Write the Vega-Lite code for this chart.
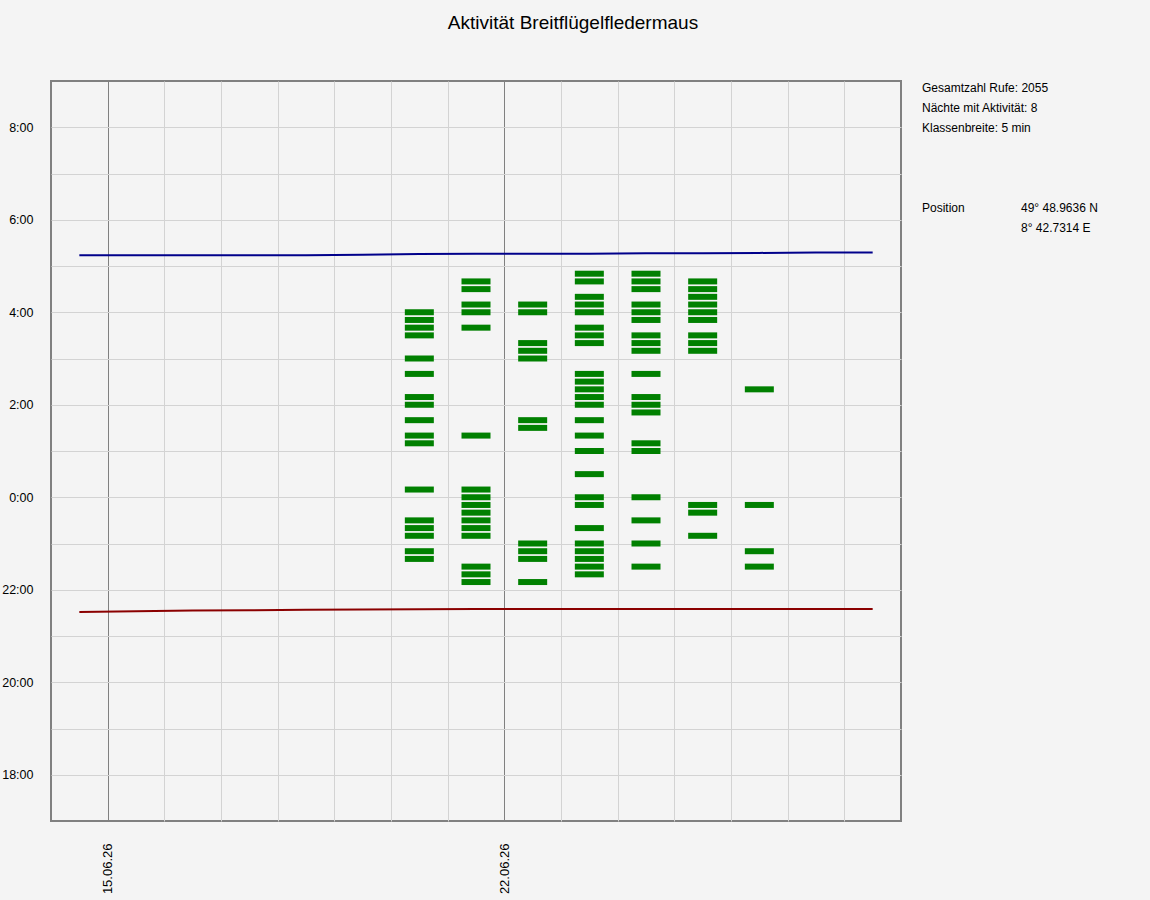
{
  "$schema": "https://vega.github.io/schema/vega-lite/v6.json",
  "description": "Nächtliche Rufaktivität der Breitflügelfledermaus je 5-min-Klasse, mit Sonnenauf- und -untergang",
  "background": "#f4f4f4",
  "padding": {"top": 14, "left": 0, "right": 30, "bottom": 7},
  "title": {
    "text": "Aktivität Breitflügelfledermaus",
    "font": "Liberation Sans",
    "fontSize": 19,
    "fontWeight": "normal",
    "color": "#000000",
    "anchor": "middle",
    "offset": 47,
    "dx": 13
  },
  "spacing": 20,
  "datasets": {
    "sonne": [
      {"datum": "2026-06-14", "ereignis": "Sonnenaufgang", "minuten": 314},
      {"datum": "2026-06-15", "ereignis": "Sonnenaufgang", "minuten": 314},
      {"datum": "2026-06-16", "ereignis": "Sonnenaufgang", "minuten": 314},
      {"datum": "2026-06-17", "ereignis": "Sonnenaufgang", "minuten": 314},
      {"datum": "2026-06-18", "ereignis": "Sonnenaufgang", "minuten": 314},
      {"datum": "2026-06-19", "ereignis": "Sonnenaufgang", "minuten": 314.5},
      {"datum": "2026-06-20", "ereignis": "Sonnenaufgang", "minuten": 315.5},
      {"datum": "2026-06-21", "ereignis": "Sonnenaufgang", "minuten": 316},
      {"datum": "2026-06-22", "ereignis": "Sonnenaufgang", "minuten": 316},
      {"datum": "2026-06-23", "ereignis": "Sonnenaufgang", "minuten": 316},
      {"datum": "2026-06-24", "ereignis": "Sonnenaufgang", "minuten": 316.5},
      {"datum": "2026-06-25", "ereignis": "Sonnenaufgang", "minuten": 316.5},
      {"datum": "2026-06-26", "ereignis": "Sonnenaufgang", "minuten": 317},
      {"datum": "2026-06-27", "ereignis": "Sonnenaufgang", "minuten": 317.5},
      {"datum": "2026-06-28", "ereignis": "Sonnenaufgang", "minuten": 317.5},
      {"datum": "2026-06-14", "ereignis": "Sonnenuntergang", "minuten": -149},
      {"datum": "2026-06-15", "ereignis": "Sonnenuntergang", "minuten": -148},
      {"datum": "2026-06-16", "ereignis": "Sonnenuntergang", "minuten": -147},
      {"datum": "2026-06-17", "ereignis": "Sonnenuntergang", "minuten": -146.5},
      {"datum": "2026-06-18", "ereignis": "Sonnenuntergang", "minuten": -146},
      {"datum": "2026-06-19", "ereignis": "Sonnenuntergang", "minuten": -145.5},
      {"datum": "2026-06-20", "ereignis": "Sonnenuntergang", "minuten": -145.2},
      {"datum": "2026-06-21", "ereignis": "Sonnenuntergang", "minuten": -145},
      {"datum": "2026-06-22", "ereignis": "Sonnenuntergang", "minuten": -145},
      {"datum": "2026-06-23", "ereignis": "Sonnenuntergang", "minuten": -145},
      {"datum": "2026-06-24", "ereignis": "Sonnenuntergang", "minuten": -145},
      {"datum": "2026-06-25", "ereignis": "Sonnenuntergang", "minuten": -145},
      {"datum": "2026-06-26", "ereignis": "Sonnenuntergang", "minuten": -145},
      {"datum": "2026-06-27", "ereignis": "Sonnenuntergang", "minuten": -145},
      {"datum": "2026-06-28", "ereignis": "Sonnenuntergang", "minuten": -145}
    ],
    "rufe": [
      {"datum": "2026-06-20", "minuten": 240}, {"datum": "2026-06-20", "minuten": 230},
      {"datum": "2026-06-20", "minuten": 220}, {"datum": "2026-06-20", "minuten": 210},
      {"datum": "2026-06-20", "minuten": 180}, {"datum": "2026-06-20", "minuten": 160},
      {"datum": "2026-06-20", "minuten": 130}, {"datum": "2026-06-20", "minuten": 120},
      {"datum": "2026-06-20", "minuten": 100}, {"datum": "2026-06-20", "minuten": 80},
      {"datum": "2026-06-20", "minuten": 70}, {"datum": "2026-06-20", "minuten": 10},
      {"datum": "2026-06-20", "minuten": -30}, {"datum": "2026-06-20", "minuten": -40},
      {"datum": "2026-06-20", "minuten": -50}, {"datum": "2026-06-20", "minuten": -70},
      {"datum": "2026-06-20", "minuten": -80},

      {"datum": "2026-06-21", "minuten": 280}, {"datum": "2026-06-21", "minuten": 270},
      {"datum": "2026-06-21", "minuten": 250}, {"datum": "2026-06-21", "minuten": 240},
      {"datum": "2026-06-21", "minuten": 220}, {"datum": "2026-06-21", "minuten": 80},
      {"datum": "2026-06-21", "minuten": 10}, {"datum": "2026-06-21", "minuten": 0},
      {"datum": "2026-06-21", "minuten": -10}, {"datum": "2026-06-21", "minuten": -20},
      {"datum": "2026-06-21", "minuten": -30}, {"datum": "2026-06-21", "minuten": -40},
      {"datum": "2026-06-21", "minuten": -50}, {"datum": "2026-06-21", "minuten": -90},
      {"datum": "2026-06-21", "minuten": -100}, {"datum": "2026-06-21", "minuten": -110},

      {"datum": "2026-06-22", "minuten": 250}, {"datum": "2026-06-22", "minuten": 240},
      {"datum": "2026-06-22", "minuten": 200}, {"datum": "2026-06-22", "minuten": 190},
      {"datum": "2026-06-22", "minuten": 180}, {"datum": "2026-06-22", "minuten": 100},
      {"datum": "2026-06-22", "minuten": 90}, {"datum": "2026-06-22", "minuten": -60},
      {"datum": "2026-06-22", "minuten": -70}, {"datum": "2026-06-22", "minuten": -80},
      {"datum": "2026-06-22", "minuten": -110},

      {"datum": "2026-06-23", "minuten": 290}, {"datum": "2026-06-23", "minuten": 280},
      {"datum": "2026-06-23", "minuten": 260}, {"datum": "2026-06-23", "minuten": 250},
      {"datum": "2026-06-23", "minuten": 240}, {"datum": "2026-06-23", "minuten": 220},
      {"datum": "2026-06-23", "minuten": 210}, {"datum": "2026-06-23", "minuten": 200},
      {"datum": "2026-06-23", "minuten": 160}, {"datum": "2026-06-23", "minuten": 150},
      {"datum": "2026-06-23", "minuten": 140}, {"datum": "2026-06-23", "minuten": 130},
      {"datum": "2026-06-23", "minuten": 120}, {"datum": "2026-06-23", "minuten": 100},
      {"datum": "2026-06-23", "minuten": 80}, {"datum": "2026-06-23", "minuten": 60},
      {"datum": "2026-06-23", "minuten": 30}, {"datum": "2026-06-23", "minuten": 0},
      {"datum": "2026-06-23", "minuten": -10}, {"datum": "2026-06-23", "minuten": -40},
      {"datum": "2026-06-23", "minuten": -60}, {"datum": "2026-06-23", "minuten": -70},
      {"datum": "2026-06-23", "minuten": -80}, {"datum": "2026-06-23", "minuten": -90},
      {"datum": "2026-06-23", "minuten": -100},

      {"datum": "2026-06-24", "minuten": 290}, {"datum": "2026-06-24", "minuten": 280},
      {"datum": "2026-06-24", "minuten": 270}, {"datum": "2026-06-24", "minuten": 250},
      {"datum": "2026-06-24", "minuten": 240}, {"datum": "2026-06-24", "minuten": 230},
      {"datum": "2026-06-24", "minuten": 210}, {"datum": "2026-06-24", "minuten": 200},
      {"datum": "2026-06-24", "minuten": 190}, {"datum": "2026-06-24", "minuten": 160},
      {"datum": "2026-06-24", "minuten": 130}, {"datum": "2026-06-24", "minuten": 120},
      {"datum": "2026-06-24", "minuten": 110}, {"datum": "2026-06-24", "minuten": 70},
      {"datum": "2026-06-24", "minuten": 60}, {"datum": "2026-06-24", "minuten": 0},
      {"datum": "2026-06-24", "minuten": -30}, {"datum": "2026-06-24", "minuten": -60},
      {"datum": "2026-06-24", "minuten": -90},

      {"datum": "2026-06-25", "minuten": 280}, {"datum": "2026-06-25", "minuten": 270},
      {"datum": "2026-06-25", "minuten": 260}, {"datum": "2026-06-25", "minuten": 250},
      {"datum": "2026-06-25", "minuten": 240}, {"datum": "2026-06-25", "minuten": 230},
      {"datum": "2026-06-25", "minuten": 210}, {"datum": "2026-06-25", "minuten": 200},
      {"datum": "2026-06-25", "minuten": 190}, {"datum": "2026-06-25", "minuten": -10},
      {"datum": "2026-06-25", "minuten": -20}, {"datum": "2026-06-25", "minuten": -50},

      {"datum": "2026-06-26", "minuten": 140}, {"datum": "2026-06-26", "minuten": -10},
      {"datum": "2026-06-26", "minuten": -70}, {"datum": "2026-06-26", "minuten": -90}
    ],
    "info": [
      {"zeile": 1, "spalte": "Bezeichnung", "text": "Gesamtzahl Rufe: 2055"},
      {"zeile": 2, "spalte": "Bezeichnung", "text": "Nächte mit Aktivität: 8"},
      {"zeile": 3, "spalte": "Bezeichnung", "text": "Klassenbreite: 5 min"},
      {"zeile": 7, "spalte": "Bezeichnung", "text": "Position"},
      {"zeile": 7, "spalte": "Wert", "text": "49° 48.9636 N"},
      {"zeile": 8, "spalte": "Wert", "text": "8° 42.7314 E"}
    ]
  },
  "hconcat": [
    {
      "width": 850,
      "height": 740,
      "encoding": {
        "x": {
          "field": "datum",
          "type": "temporal",
          "timeUnit": "utcyearmonthdate",
          "bandPosition": 0.5,
          "scale": {
            "type": "utc",
            "domain": [
              {"year": 2026, "month": 6, "date": 14, "utc": true},
              {"year": 2026, "month": 6, "date": 29, "utc": true}
            ]
          },
          "axis": {
            "title": null,
            "values": [
              {"year": 2026, "month": 6, "date": 15, "utc": true},
              {"year": 2026, "month": 6, "date": 16, "utc": true},
              {"year": 2026, "month": 6, "date": 17, "utc": true},
              {"year": 2026, "month": 6, "date": 18, "utc": true},
              {"year": 2026, "month": 6, "date": 19, "utc": true},
              {"year": 2026, "month": 6, "date": 20, "utc": true},
              {"year": 2026, "month": 6, "date": 21, "utc": true},
              {"year": 2026, "month": 6, "date": 22, "utc": true},
              {"year": 2026, "month": 6, "date": 23, "utc": true},
              {"year": 2026, "month": 6, "date": 24, "utc": true},
              {"year": 2026, "month": 6, "date": 25, "utc": true},
              {"year": 2026, "month": 6, "date": 26, "utc": true},
              {"year": 2026, "month": 6, "date": 27, "utc": true},
              {"year": 2026, "month": 6, "date": 28, "utc": true}
            ],
            "labelExpr": "utcday(datum.value) == 1 ? utcFormat(datum.value, '%d.%m.%y') : ''",
            "labelAngle": 270,
            "labelPadding": 22,
            "gridColor": {
              "condition": {"test": "utcday(datum.value) == 1", "value": "#808080"},
              "value": "#d3d3d3"
            }
          }
        },
        "y": {
          "field": "minuten",
          "type": "quantitative",
          "scale": {"domain": [-420, 540], "nice": false, "zero": false},
          "axis": {
            "title": null,
            "values": [-360, -300, -240, -180, -120, -60, 0, 60, 120, 180, 240, 300, 360, 420, 480],
            "labelExpr": "datum.value % 120 == 0 ? ((datum.value / 60 + 24) % 24) + ':00' : ''",
            "labelFontSize": 12.5,
            "labelPadding": 18,
            "minExtent": 50,
            "maxExtent": 50
          }
        }
      },
      "layer": [
        {
          "data": {"name": "sonne"},
          "mark": {"type": "line", "strokeWidth": 2},
          "encoding": {
            "color": {
              "field": "ereignis",
              "type": "nominal",
              "scale": {"domain": ["Sonnenaufgang", "Sonnenuntergang"], "range": ["#00008b", "#8b0000"]},
              "legend": null
            }
          }
        },
        {
          "data": {"name": "rufe"},
          "mark": {"type": "tick", "orient": "horizontal", "size": 29, "thickness": 6, "color": "#008000", "opacity": 1}
        }
      ]
    },
    {
      "data": {"name": "info"},
      "width": {"step": 99},
      "height": {"step": 20},
      "view": {"stroke": null},
      "mark": {"type": "text", "align": "left", "baseline": "middle", "font": "Liberation Sans", "fontSize": 12, "color": "#000000"},
      "encoding": {
        "x": {
          "field": "spalte",
          "type": "nominal",
          "bandPosition": 0,
          "scale": {"type": "band", "domain": ["Bezeichnung", "Wert"], "paddingInner": 0, "paddingOuter": 0},
          "axis": null
        },
        "y": {
          "field": "zeile",
          "type": "ordinal",
          "bandPosition": 0.35,
          "scale": {"type": "band", "domain": [1, 2, 3, 4, 5, 6, 7, 8], "paddingInner": 0, "paddingOuter": 0},
          "axis": null
        },
        "text": {"field": "text"}
      }
    }
  ],
  "config": {
    "view": {"stroke": "#808080", "strokeWidth": 2},
    "axis": {
      "domain": false,
      "ticks": false,
      "grid": true,
      "gridColor": "#d3d3d3",
      "gridWidth": 1,
      "labelFont": "Liberation Sans",
      "labelFontSize": 13,
      "labelColor": "#000000",
      "labelOverlap": false,
      "labelBound": false
    }
  }
}
